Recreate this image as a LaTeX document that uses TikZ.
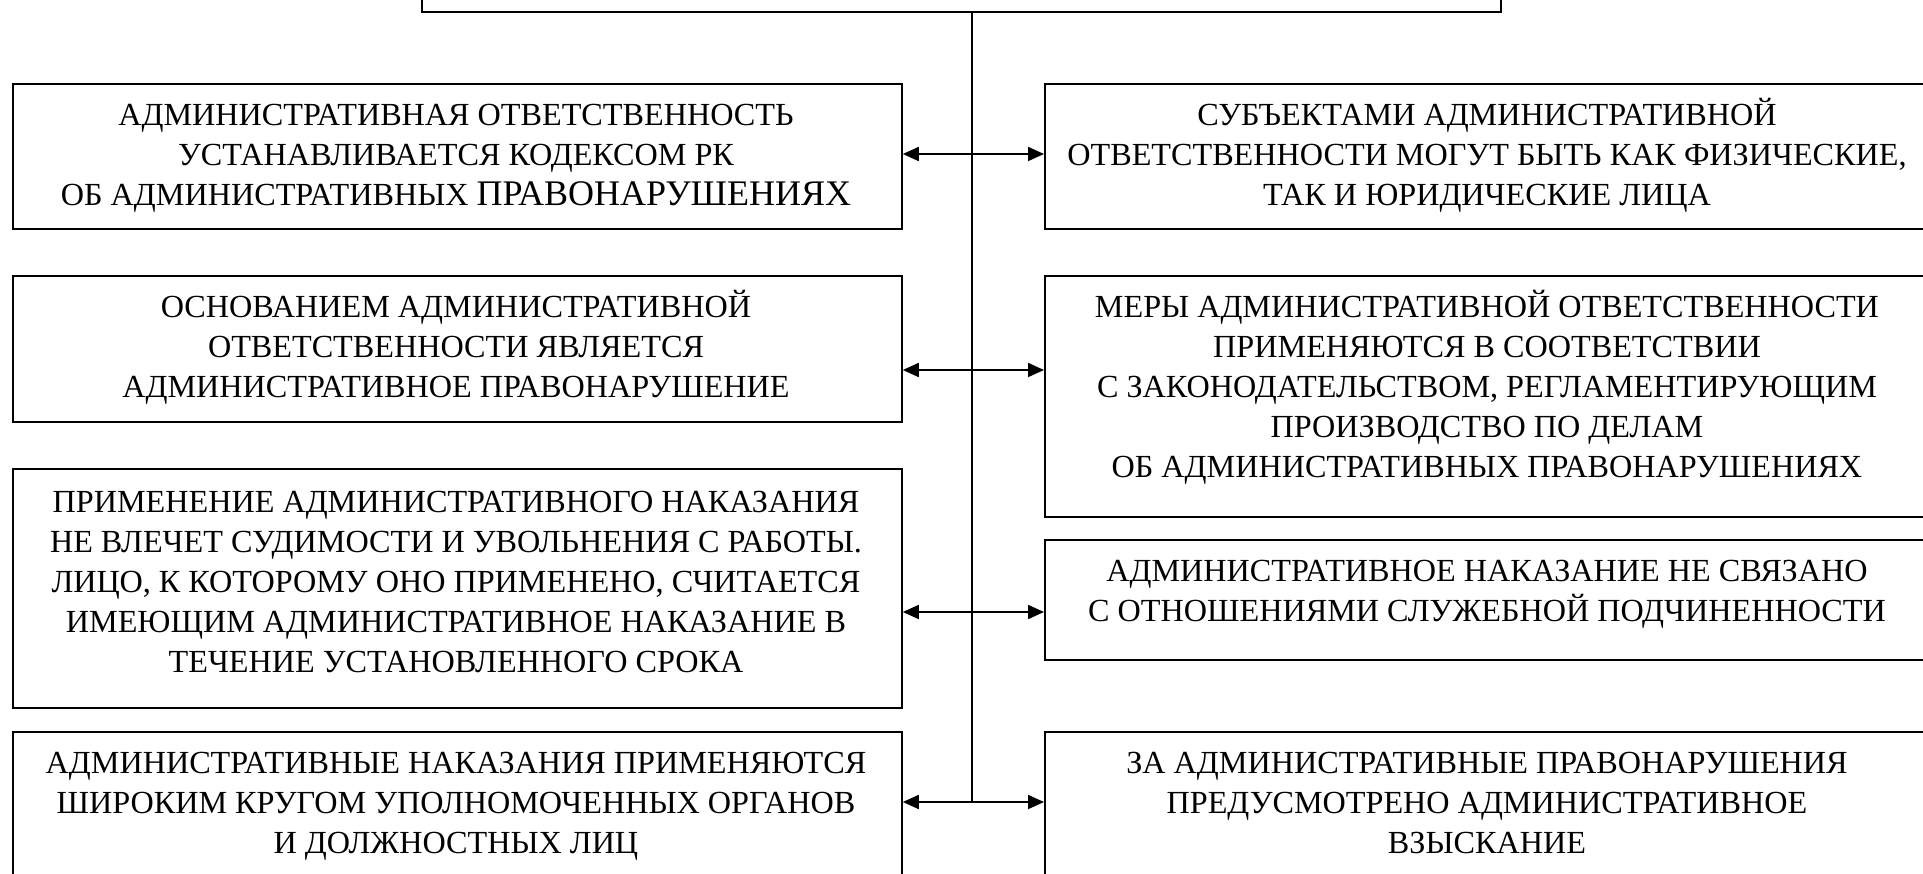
\documentclass[tikz,border=0pt]{standalone}
\usepackage{fontspec}
\setmainfont{Liberation Serif}
\usetikzlibrary{arrows.meta}
\newcommand{\fstrut}{\rule{0pt}{30pt}}
\begin{document}
\begin{tikzpicture}[x=1pt,y=-1pt,
  box/.style={draw, line width=1.8pt, inner sep=0pt, anchor=north west, minimum width=889pt},
  txt/.style={inner sep=0pt, anchor=north, align=center, font=\fontsize{32.2}{40}\selectfont},
  arr/.style={line width=1.8pt, -{Triangle[length=16pt,width=14pt]}},
  trunk/.style={line width=1.5pt}]
\useasboundingbox (0,0) rectangle (1923,874);
\clip (0,0) rectangle (1923,874);
\fill[white] (0,0) rectangle (1923,874);
% top box (cut off)
\node[box, minimum width=1079pt, minimum height=91pt] (top) at (421,-80) {};
% left boxes
\node[box, minimum height=145pt] (l1) at (12,83) {};
\node[box, minimum height=146pt] (l2) at (12,275) {};
\node[box, minimum height=239pt] (l3) at (12,468) {};
\node[box, minimum height=200pt] (l4) at (12,731) {};
% right boxes
\node[box, minimum height=145pt] (r1) at (1044,83) {};
\node[box, minimum height=241pt] (r2) at (1044,275) {};
\node[box, minimum height=120pt] (r3) at (1044,539) {};
\node[box, minimum height=200pt] (r4) at (1044,731) {};
% texts
\node[txt] (l1t) at (456,95) {\fstrut АДМИНИСТРАТИВНАЯ ОТВЕТСТВЕННОСТЬ\\УСТАНАВЛИВАЕТСЯ КОДЕКСОМ РК\\ОБ АДМИНИСТРАТИВНЫХ {\fontsize{36}{40}\selectfont ПРАВОНАРУШЕНИЯХ}};
\node[txt] (l2t) at (456,287) {\fstrut ОСНОВАНИЕМ АДМИНИСТРАТИВНОЙ\\ОТВЕТСТВЕННОСТИ ЯВЛЯЕТСЯ\\АДМИНИСТРАТИВНОЕ ПРАВОНАРУШЕНИЕ};
\node[txt] (l3t) at (456,482) {\fstrut ПРИМЕНЕНИЕ АДМИНИСТРАТИВНОГО НАКАЗАНИЯ\\НЕ ВЛЕЧЕТ СУДИМОСТИ И УВОЛЬНЕНИЯ С РАБОТЫ.\\ЛИЦО, К КОТОРОМУ ОНО ПРИМЕНЕНО, СЧИТАЕТСЯ\\ИМЕЮЩИМ АДМИНИСТРАТИВНОЕ НАКАЗАНИЕ В\\ТЕЧЕНИЕ УСТАНОВЛЕННОГО СРОКА};
\node[txt] (l4t) at (456,743) {\fstrut АДМИНИСТРАТИВНЫЕ НАКАЗАНИЯ ПРИМЕНЯЮТСЯ\\ШИРОКИМ КРУГОМ УПОЛНОМОЧЕННЫХ ОРГАНОВ\\И ДОЛЖНОСТНЫХ ЛИЦ};
\node[txt] (r1t) at (1487,95) {\fstrut СУБЪЕКТАМИ АДМИНИСТРАТИВНОЙ\\ОТВЕТСТВЕННОСТИ МОГУТ БЫТЬ КАК ФИЗИЧЕСКИЕ,\\ТАК И ЮРИДИЧЕСКИЕ ЛИЦА};
\node[txt] (r2t) at (1487,287) {\fstrut МЕРЫ АДМИНИСТРАТИВНОЙ ОТВЕТСТВЕННОСТИ\\ПРИМЕНЯЮТСЯ В СООТВЕТСТВИИ\\С ЗАКОНОДАТЕЛЬСТВОМ, РЕГЛАМЕНТИРУЮЩИМ\\ПРОИЗВОДСТВО ПО ДЕЛАМ\\ОБ АДМИНИСТРАТИВНЫХ ПРАВОНАРУШЕНИЯХ};
\node[txt] (r3t) at (1487,551) {\fstrut АДМИНИСТРАТИВНОЕ НАКАЗАНИЕ НЕ СВЯЗАНО\\С ОТНОШЕНИЯМИ СЛУЖЕБНОЙ ПОДЧИНЕННОСТИ};
\node[txt] (r4t) at (1487,743) {\fstrut ЗА АДМИНИСТРАТИВНЫЕ ПРАВОНАРУШЕНИЯ\\ПРЕДУСМОТРЕНО АДМИНИСТРАТИВНОЕ\\ВЗЫСКАНИЕ};
% trunk
\coordinate (t0) at (972,11);
\coordinate (t1) at (972,154);
\coordinate (t2) at (972,370);
\coordinate (t3) at (972,612);
\coordinate (t4) at (972,802);
\draw[trunk] (t0 |- top.south) -- (t4);
% arrows
\draw[arr] (t1) -- (t1 -| l1.east);
\draw[arr] (t1) -- (t1 -| r1.west);
\draw[arr] (t2) -- (t2 -| l2.east);
\draw[arr] (t2) -- (t2 -| r2.west);
\draw[arr] (t3) -- (t3 -| l3.east);
\draw[arr] (t3) -- (t3 -| r3.west);
\draw[arr] (t4) -- (t4 -| l4.east);
\draw[arr] (t4) -- (t4 -| r4.west);
\end{tikzpicture}
\end{document}
